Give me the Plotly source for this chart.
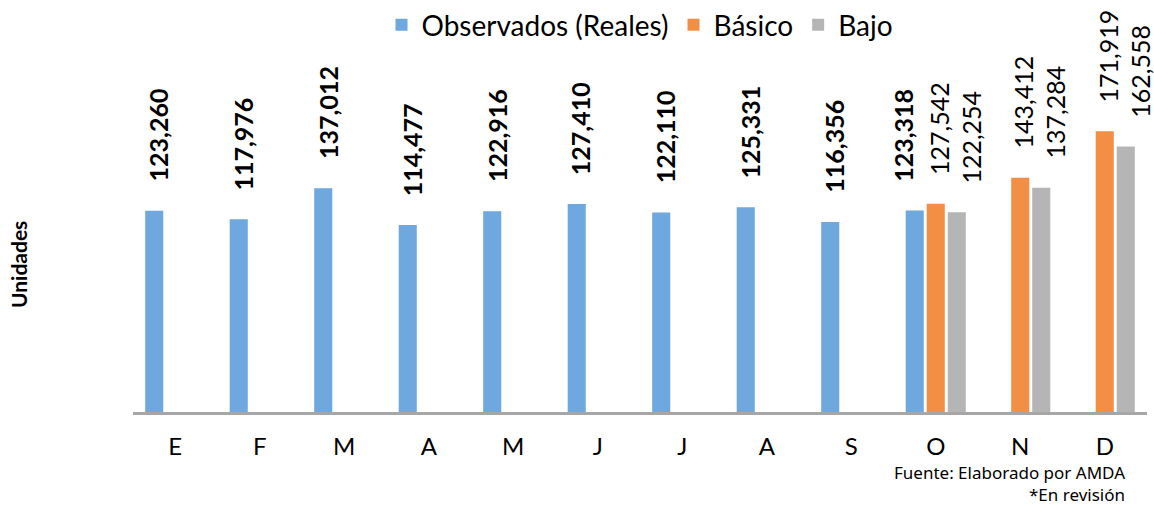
import plotly.graph_objects as go

months = ["E", "F", "M", "A", "M", "J", "J", "A", "S", "O", "N", "D"]
observados = [123260, 117976, 137012, 114477, 122916, 127410, 122110, 125331, 116356, 123318, None, None]
basico = [None] * 9 + [127542, 143412, 171919]
bajo = [None] * 9 + [122254, 137284, 162558]

series = [
    ("Observados (Reales)", observados, "#6ea8de"),
    ("Básico", basico, "#f28f45"),
    ("Bajo", bajo, "#b5b5b5"),
]

xpos = list(range(len(months)))
LABEL_FONT = "Lato"

fig = go.Figure()
for name, vals, color in series:
    fig.add_trace(go.Bar(x=xpos, y=vals, name=name, marker=dict(color=color, line=dict(width=0))))

annotations = []
for s_idx, (name, vals, color) in enumerate(series):
    for i, v in enumerate(vals):
        if v is None:
            continue
        if s_idx == 0:
            crowded = basico[i] is not None or bajo[i] is not None
            xs = -33 if crowded else -17
            txt = f"<b>{v:,}</b>"
        elif s_idx == 1:
            xs = 3
            txt = f"{v:,}"
        else:
            xs = 35
            txt = f"{v:,}"
        annotations.append(dict(
            x=i, y=v, xref="x", yref="y", text=txt, showarrow=False,
            textangle=-90, xanchor="center", yanchor="bottom",
            xshift=xs, yshift=27,
            font=dict(family=LABEL_FONT, size=25, color="black"),
        ))

L, R, T, B = 133, 7, 118, 95
W, H = 1154, 507
pw, ph = W - L - R, H - T - B

annotations.append(dict(
    x=-0.1134, y=0.5, xref="paper", yref="paper", text="<b>Unidades</b>",
    showarrow=False, textangle=-90, xanchor="center", yanchor="middle",
    font=dict(family=LABEL_FONT, size=21, color="black"),
))
annotations.append(dict(
    x=(1126 - L) / pw, y=(H - B - 483) / ph, xref="paper", yref="paper",
    text="Fuente: Elaborado por AMDA<br>*En revisión", align="right",
    showarrow=False, xanchor="right", yanchor="middle", borderpad=0,
    font=dict(family="Noto Sans", size=17, color="black"),
))

fig.update_layout(
    width=W, height=H,
    margin=dict(l=L, r=R, t=T, b=B, pad=0, autoexpand=False),
    paper_bgcolor="white", plot_bgcolor="white",
    barmode="group", bargap=0.254, bargroupgap=0.14,
    showlegend=True,
    legend=dict(orientation="h", x=0.5, xanchor="center", y=(H - B - 25) / ph, yanchor="middle",
                font=dict(family=LABEL_FONT, size=28, color="black"), itemwidth=30,
                bgcolor="rgba(0,0,0,0)"),
    annotations=annotations,
    xaxis=dict(
        tickmode="array", tickvals=xpos, ticktext=months, range=[-0.5, 11.5],
        showline=True, linecolor="#a6a6a6", linewidth=2.5, showgrid=False, zeroline=False,
        ticks="", ticklabelstandoff=11,
        tickfont=dict(family=LABEL_FONT, size=24, color="black"),
    ),
    yaxis=dict(range=[0, 180000], showgrid=False, zeroline=False, showline=False,
               showticklabels=False, ticks=""),
)

fig.write_html("out.html", config={"displayModeBar": False},
               post_script="document.body.style.margin='0';document.body.style.overflow='hidden';")
